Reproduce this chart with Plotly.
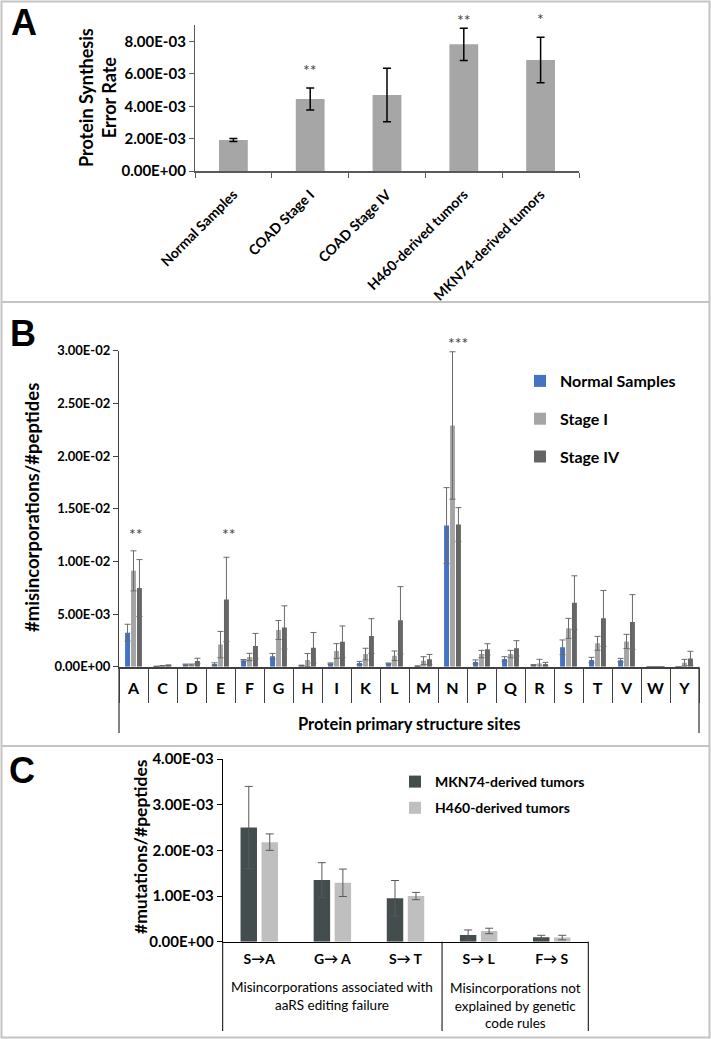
import plotly.graph_objects as go

W, H = 711, 1039

# ---------------- Panel A data ----------------
a_categories = ["Normal Samples", "COAD Stage I", "COAD Stage IV",
                "H460-derived tumors", "MKN74-derived tumors"]
a_values = [1.92e-3, 4.45e-3, 4.70e-3, 7.83e-3, 6.86e-3]
a_errors = [0.09e-3, 0.68e-3, 1.65e-3, 1.00e-3, 1.40e-3]
a_stars = ["", "**", "", "**", "*"]
a_star_levels = [None, 6.3e-3, None, 9.35e-3, 9.4e-3]
a_ymax = 0.009
a_ticks = [0, 0.002, 0.004, 0.006, 0.008]

# ---------------- Panel B data ----------------
b_sites = ["A", "C", "D", "E", "F", "G", "H", "I", "K", "L",
           "M", "N", "P", "Q", "R", "S", "T", "V", "W", "Y"]
b_normal = [3.23, 0.03, 0.20, 0.25, 0.60, 1.00, 0.10, 0.30, 0.35, 0.30,
            0.05, 13.4, 0.45, 0.73, 0.15, 1.84, 0.63, 0.62, 0.0, 0.0]
b_normal_err = [0.80, 0.0, 0.05, 0.12, 0.08, 0.26, 0.03, 0.06, 0.15, 0.05,
                0.02, 3.60, 0.19, 0.22, 0.05, 0.70, 0.26, 0.17, 0.0, 0.0]
b_stage1 = [9.10, 0.08, 0.20, 2.10, 0.92, 3.48, 0.63, 1.49, 1.20, 1.04,
            0.57, 22.9, 1.20, 1.20, 0.30, 3.64, 2.22, 2.40, 0.0, 0.38]
b_stage1_err = [1.90, 0.03, 0.05, 1.25, 0.35, 0.90, 0.62, 0.70, 0.55, 0.45,
                0.38, 7.00, 0.35, 0.35, 0.40, 0.95, 0.66, 0.67, 0.0, 0.32]
b_stage4 = [7.47, 0.12, 0.54, 6.39, 1.96, 3.73, 1.80, 2.37, 2.91, 4.40,
            0.70, 13.5, 1.65, 1.74, 0.25, 6.08, 4.59, 4.24, 0.0, 0.79]
b_stage4_err = [2.70, 0.04, 0.26, 4.00, 1.20, 2.05, 1.45, 1.50, 1.65, 3.20,
                0.47, 1.60, 0.53, 0.73, 0.16, 2.55, 2.65, 2.60, 0.0, 0.67]
b_scale = 1e-3
b_star_sites = ["A", "E", "N"]
b_star_text = ["**", "**", "***"]
b_star_levels = [12.6e-3, 12.6e-3, 30.8e-3]
b_ymax = 0.03
b_ticks = [0, 0.005, 0.010, 0.015, 0.020, 0.025, 0.030]

# ---------------- Panel C data ----------------
c_categories = ["S→A", "G→ A", "S→ T", "S→ L", "F→ S"]
c_mkn74 = [2.50e-3, 1.35e-3, 0.95e-3, 0.147e-3, 0.10e-3]
c_mkn74_err = [0.90e-3, 0.38e-3, 0.39e-3, 0.11e-3, 0.04e-3]
c_h460 = [2.18e-3, 1.29e-3, 1.00e-3, 0.235e-3, 0.09e-3]
c_h460_err = [0.18e-3, 0.30e-3, 0.08e-3, 0.06e-3, 0.05e-3]
c_groups = ["Misincorporations associated with<br>aaRS editing failure",
            "Misincorporations not<br>explained by genetic<br>code rules"]
c_ymax = 0.004
c_ticks = [0, 0.001, 0.002, 0.003, 0.004]


def fx(p):
    return p / W


def fy(p):
    return 1 - p / H


FONT = "Lato"
BOLD = dict(family=FONT, weight="bold", color="black")

fig = go.Figure()

# Panel A
fig.add_trace(go.Bar(
    x=a_categories, y=a_values, xaxis="x", yaxis="y",
    marker=dict(color="#a6a6a6", line=dict(width=0)),
    width=0.375, offset=-0.1875, showlegend=False,
    error_y=dict(type="data", array=a_errors, color="black", thickness=1.5, width=4),
))

# Panel B
b_names = ["Normal Samples", "Stage I", "Stage IV"]
for idx, (vals, errs, col) in enumerate([
    (b_normal, b_normal_err, "#4472c4"),
    (b_stage1, b_stage1_err, "#a5a5a5"),
    (b_stage4, b_stage4_err, "#656565"),
]):
    name = b_names[idx]
    fig.add_trace(go.Bar(
        name=name, x=b_sites, y=[v * b_scale for v in vals],
        xaxis="x2", yaxis="y2", legend="legend", legendgroup=name,
        marker=dict(color=col, line=dict(width=0)),
        width=0.17, offset=-0.29 + idx * 0.205,
        error_y=dict(type="data", array=[e * b_scale for e in errs],
                     color="#6a6a6a", thickness=1, width=3),
    ))

# Panel C
for name, vals, errs, col, off in [
    ("MKN74-derived tumors", c_mkn74, c_mkn74_err, "#434d4d", -0.256),
    ("H460-derived tumors", c_h460, c_h460_err, "#bfbfbf", 0.031),
]:
    fig.add_trace(go.Bar(
        name=name, x=c_categories, y=vals, xaxis="x3", yaxis="y3",
        legend="legend2", legendgroup=name,
        marker=dict(color=col, line=dict(width=0)),
        width=0.225, offset=off,
        error_y=dict(type="data", array=errs, color="#595959", thickness=1, width=4),
    ))

annotations = []
# panel letters
for letter, (lx, ly) in zip("ABC", [(24, 22), (23, 333), (22, 770)]):
    annotations.append(dict(text=letter, x=fx(lx), y=fy(ly), xref="paper", yref="paper",
                            showarrow=False, xanchor="center", yanchor="middle",
                            font=dict(family="Liberation Sans", size=36, weight="bold", color="black")))

# y-axis titles
annotations.append(dict(text="Protein Synthesis<br>Error Rate", x=fx(98), y=fy(98),
                        xref="paper", yref="paper", showarrow=False, textangle=-90,
                        xanchor="center", yanchor="middle",
                        font=dict(size=18, **BOLD)))
annotations.append(dict(text="#misincorporations/#peptides", x=fx(32), y=fy(508),
                        xref="paper", yref="paper", showarrow=False, textangle=-90,
                        xanchor="center", yanchor="middle",
                        font=dict(size=18.5, **BOLD)))
annotations.append(dict(text="#mutations/#peptides", x=fx(140), y=fy(847),
                        xref="paper", yref="paper", showarrow=False, textangle=-90,
                        xanchor="center", yanchor="middle",
                        font=dict(size=17.5, **BOLD)))

# stars panel A (domain fraction from data level so they are not clipped)
for cat, s, lvl in zip(a_categories, a_stars, a_star_levels):
    if s:
        annotations.append(dict(text=s, x=cat, y=lvl / a_ymax, xref="x", yref="y domain",
                                showarrow=False, xanchor="center", yanchor="middle",
                                font=dict(family=FONT, size=16, color="#404040")))
# stars panel B
for site, s, lvl, sh in zip(b_star_sites, b_star_text, b_star_levels, [2, 8, 5]):
    annotations.append(dict(text=s, x=site, y=lvl / b_ymax, xref="x2", yref="y2 domain",
                            showarrow=False, xanchor="center", yanchor="middle", xshift=sh,
                            font=dict(family=FONT, size=16, color="#404040")))

# panel B x title
annotations.append(dict(text="Protein primary structure sites", x=0.5, y=fy(724),
                        xref="x2 domain", yref="paper", showarrow=False,
                        xanchor="center", yanchor="middle", font=dict(size=16.5, **BOLD)))
# panel C group labels
annotations.append(dict(text=c_groups[0], x=1, y=fy(996), xref="x3", yref="paper",
                        showarrow=False, xanchor="center", yanchor="middle",
                        font=dict(family=FONT, size=13.5, color="black")))
annotations.append(dict(text=c_groups[1], x=3.5, y=fy(1005), xref="x3", yref="paper",
                        showarrow=False, xanchor="center", yanchor="middle",
                        font=dict(family=FONT, size=13.5, color="black")))

shapes = []
BORDER = dict(color="#c4c4c4", width=2)
shapes.append(dict(type="rect", xref="paper", yref="paper", x0=fx(1.5), x1=fx(709.5),
                   y0=fy(1037.5), y1=fy(1.5), line=BORDER))
for yy in [302, 746]:
    shapes.append(dict(type="line", xref="paper", yref="paper", x0=fx(1.5), x1=fx(709.5),
                       y0=fy(yy), y1=fy(yy), line=BORDER))
# panel B table lines
for xd in [0, 1]:
    shapes.append(dict(type="line", xref="x2 domain", yref="paper", x0=xd, x1=xd,
                       y0=fy(666.7), y1=fy(733), line=dict(color="#404040", width=1.3)))
# panel C group lines
for xd in [0, 0.6, 1]:
    shapes.append(dict(type="line", xref="x3 domain", yref="paper", x0=xd, x1=xd,
                       y0=fy(941.7), y1=fy(1031), line=dict(color="black", width=1)))

fig.update_layout(
    width=W, height=H, margin=dict(l=0, r=0, t=0, b=0, autoexpand=False),
    paper_bgcolor="white", plot_bgcolor="white",
    barmode="overlay",
    font=dict(family=FONT, color="black"),
    annotations=annotations, shapes=shapes,
    xaxis=dict(domain=[fx(195), fx(579)], anchor="y", type="category", automargin=False,
               range=[-0.5, 4.5], showline=True, linecolor="#595959", linewidth=2,
               ticks="outside", tickson="boundaries", ticklen=5, tickcolor="#595959",
               tickangle=-45, tickfont=dict(size=14, **BOLD), showgrid=False,
               ticklabelstandoff=8),
    yaxis=dict(domain=[fy(171), fy(25.4)], anchor="x", range=[0, a_ymax], automargin=False,
               tickvals=a_ticks, ticktext=[f"{v:.2E}" for v in a_ticks],
               showline=True, linecolor="#595959", linewidth=1.3, ticks="outside",
               ticklen=5, tickcolor="#595959", tickfont=dict(size=15, **BOLD),
               showgrid=False, zeroline=False),
    xaxis2=dict(domain=[fx(119), fx(699)], anchor="y2", type="category", automargin=False,
                range=[-0.5, 19.5], showline=True, linecolor="#404040", linewidth=1.5,
                ticks="outside", tickson="boundaries", ticklen=35, tickcolor="#404040",
                tickwidth=1.3, ticklabelstandoff=6,
                tickfont=dict(size=16, **BOLD), showgrid=False),
    yaxis2=dict(domain=[fy(666.7), fy(350.7)], anchor="x2", range=[0, b_ymax], automargin=False,
                tickvals=b_ticks, ticktext=[f"{v:.2E}" for v in b_ticks],
                showline=True, linecolor="#404040", linewidth=1.3, ticks="outside",
                ticklen=5, tickcolor="#404040", tickfont=dict(size=13, **BOLD),
                showgrid=False, zeroline=False),
    xaxis3=dict(domain=[fx(222.7), fx(588.3)], anchor="y3", type="category", automargin=False,
                range=[-0.5, 4.5], showline=True, linecolor="black", linewidth=1,
                ticks="", tickfont=dict(size=14, **BOLD), showgrid=False,
                ticklabelstandoff=4),
    yaxis3=dict(domain=[fy(941.7), fy(759)], anchor="x3", range=[0, c_ymax], automargin=False,
                tickvals=c_ticks, ticktext=[f"{v:.2E}" for v in c_ticks],
                showline=True, linecolor="black", linewidth=1, ticks="outside",
                ticklen=5, tickcolor="black", tickfont=dict(size=15, **BOLD),
                showgrid=False, zeroline=False),
    legend=dict(x=fx(520), y=fy(364), xanchor="left", yanchor="top",
                bgcolor="rgba(0,0,0,0)", tracegroupgap=14,
                font=dict(size=16, **BOLD)),
    legend2=dict(x=fx(395), y=fy(766), xanchor="left", yanchor="top",
                 bgcolor="rgba(0,0,0,0)", tracegroupgap=5,
                 font=dict(size=14, **BOLD)),
)

fig.write_html("out.html", config={"displayModeBar": False},
               post_script="document.body.style.margin='0';document.body.style.overflow='hidden';")
